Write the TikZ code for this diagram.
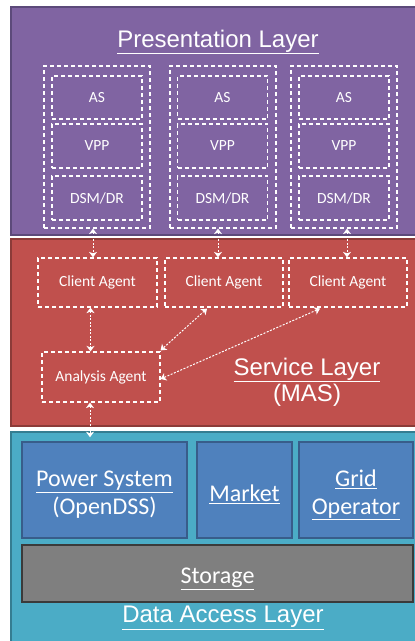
\documentclass[tikz,border=0pt]{standalone}
\usepackage{fontspec}
\setmainfont{Liberation Sans}
\newfontfamily\calfont{Carlito}
\usetikzlibrary{arrows.meta}
\definecolor{presfill}{HTML}{8064A2}
\definecolor{presline}{HTML}{5C4A7A}
\definecolor{servfill}{HTML}{C0504D}
\definecolor{servline}{HTML}{8C3B38}
\definecolor{datafill}{HTML}{4BACC6}
\definecolor{dataline}{HTML}{357D91}
\definecolor{srcfill}{HTML}{4F81BD}
\definecolor{srcline}{HTML}{385D8A}
\definecolor{storfill}{HTML}{7F7F7F}
\definecolor{storline}{HTML}{3A3A3A}
\tikzset{
  layer/.style={line width=1.5pt},
  dashbox/.style={draw=white, line width=1.2pt, dash pattern=on 4pt off 3pt,
    text=white, font=\calfont\fontsize{15.5}{18}\selectfont, inner sep=0pt},
  srcbox/.style={draw=srcline, fill=srcfill, line width=1.5pt, inner sep=0pt},
  srctext/.style={text=white, align=center, inner sep=0pt,
    font=\calfont\fontsize{24}{28}\selectfont},
  title/.style={text=white, align=center, font=\fontsize{24}{26}\selectfont},
  link/.style={white, line width=1pt, dash pattern=on 2pt off 1.5pt,
    {Stealth[length=5.5pt,width=8pt,inset=1.5pt]}-{Stealth[length=5.5pt,width=8pt,inset=1.5pt]}},
}
\begin{document}
\begin{tikzpicture}[x=1pt, y=-1pt]
\useasboundingbox (0,0) rectangle (415,641);
\clip (0,0) rectangle (415,641);
\fill[white] (0,0) rectangle (415,641);

% three layers
\draw[layer, draw=presline, fill=presfill] (11,7) rectangle (430,235);
\draw[layer, draw=servline, fill=servfill] (11,239) rectangle (430,426);
\draw[layer, draw=dataline, fill=datafill] (11,432) rectangle (430,660);

% presentation layer
\node[title] (ptitle) at (218,42) {\underline{Presentation Layer}};
\foreach \i/\cx/\ix in {1/97/97, 2/223/222.5, 3/344/344} {
  \node[dashbox, minimum width=106pt, minimum height=162pt] (g\i) at (\cx,147) {};
  \node[dashbox, minimum width=90pt, minimum height=43pt] (as\i) at (\ix,97.5) {AS};
  \node[dashbox, minimum width=90pt, minimum height=44pt] (vpp\i) at (\ix,146) {VPP};
  \node[dashbox, minimum width=90pt, minimum height=44pt] (dsm\i) at (\ix,198) {DSM/DR};
}

% service layer
\node[dashbox, minimum width=119pt, minimum height=49pt] (ca1) at (97.5,282.5) {Client Agent};
\node[dashbox, minimum width=118pt, minimum height=49pt] (ca2) at (224,282.5) {Client Agent};
\node[dashbox, minimum width=118pt, minimum height=49pt] (ca3) at (348,282.5) {Client Agent};
\node[dashbox, minimum width=118pt, minimum height=50pt] (aa) at (101,377) {Analysis Agent};
\node[title] (stitle) at (307,382) {\underline{Service Layer}\\(MAS)};

% data access layer
\node[srcbox, minimum width=165pt, minimum height=96pt] (ps) at (104.5,490) {};
\node[srcbox, minimum width=95pt, minimum height=96pt] (mk) at (244.5,490) {};
\node[srcbox, minimum width=114pt, minimum height=96pt] (go) at (356,490) {};
\node[srcbox, draw=storline, fill=storfill, minimum width=391pt, minimum height=57pt] (st)
  at (217.5,573.5) {};
\node[srctext] (pstext) at ([yshift=-5pt]ps.center) {\underline{Power System}\\(OpenDSS)};
\node[srctext] (mktext) at ([yshift=-4pt]mk.center) {\underline{Market}};
\node[srctext] (gotext) at ([yshift=-5pt]go.center) {\underline{Grid}\\\underline{Operator}};
\node[srctext] (sttext) at ([yshift=-5pt]st.center) {\underline{Storage}};
\node[title] (dtitle) at (223,618) {\underline{Data Access Layer}};

% connectors
\draw[link] ([xshift=-4pt]g1.south) -- ([xshift=-4pt]g1.south |- ca1.north);
\draw[link] ([xshift=-5pt]g2.south) -- ([xshift=-5pt]g2.south |- ca2.north);
\draw[link] ([xshift=3pt]g3.south) -- ([xshift=3pt]g3.south |- ca3.north);
\draw[link] ([xshift=-7pt]ca1.south) -- ([xshift=-7pt]ca1.south |- aa.north);
\draw[link] ([xshift=-17pt,yshift=-1pt]ca2.south) -- ([yshift=1pt]aa.north east);
\draw[link] ([xshift=-28pt,yshift=-1pt]ca3.south) -- ([yshift=-2pt]aa.east);
\draw[link] ([xshift=-11pt]aa.south) -- ([xshift=-11pt,yshift=4pt]aa.south |- ps.north);
\end{tikzpicture}
\end{document}
